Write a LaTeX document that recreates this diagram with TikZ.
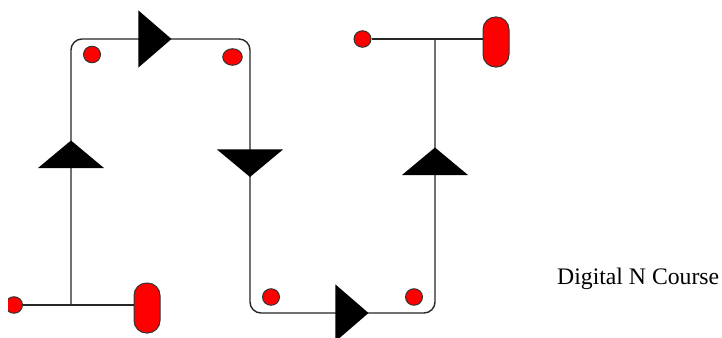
\documentclass[tikz,border=0pt]{standalone}
\usepackage{fontspec}
\setmainfont{Liberation Serif}
\usetikzlibrary{shapes.geometric}
\tikzset{
  plainwire/.style={draw=black!85,line width=1.4pt},
  wire/.style={plainwire,rounded corners=11pt},
  dot/.style={ellipse,draw=black!80,fill=red,line width=1pt,inner sep=0pt,minimum width=#1,minimum height=16.5pt},
  dot/.default=17pt,
  pill/.style={draw=black!80,fill=red,line width=1pt,rounded corners=12.5pt,minimum width=26pt,minimum height=50pt,inner sep=0pt},
  tri/.style={isosceles triangle,isosceles triangle stretches,fill=black,inner sep=0pt,anchor=apex},
  triv/.style={tri,minimum width=66pt,minimum height=27.5pt},
  trih/.style={tri,minimum width=57pt,minimum height=33pt},
  caption/.style={font=\fontsize{23.7}{26}\selectfont,anchor=base west,inner sep=0pt}
}
\begin{document}
\begin{tikzpicture}[x=1pt,y=-1pt]
\useasboundingbox (0,0) rectangle (722,337);
\clip (0,0) rectangle (722,337);
% junctions
\coordinate (j1) at (71,305);
\coordinate (j2) at (435,39);
% terminals
\begin{scope}
\clip (8,280) rectangle (40,330);
\node[dot=17pt] (d1) at (14,305) {};
\end{scope}
\node[dot=17pt] (d6) at (362.5,39) {};
% pills
\node[pill] (p1) at (147,308) {};
\node[pill] (p2) at (496,42) {};
% wires
\draw[plainwire] (d1.east) -- (p1.west |- d1.east);
\draw[plainwire] (d6.east) -- (p2.west |- d6.east);
\draw[wire] (j1) -- (71,39) -- (250,39) -- (250,313) -- (435,313) -- (j2);
% small dots
\node[dot=17pt] (d2) at (92,54.5) {};
\node[dot=19.5pt] (d3) at (232.5,57) {};
\node[dot=17pt] (d4) at (271,297) {};
\node[dot=17pt] (d5) at (414,297) {};
% triangles
\node[triv,shape border rotate=90] (t1) at (71,140) {};
\node[trih,shape border rotate=0] (t2) at (172,39) {};
\node[triv,shape border rotate=-90] (t3) at (250,177.5) {};
\node[trih,shape border rotate=0] (t4) at (369,313) {};
\node[triv,shape border rotate=90] (t5) at (435,147) {};
% caption
\node[caption] (c) at (557,284) {Digital N Course};
\end{tikzpicture}
\end{document}
